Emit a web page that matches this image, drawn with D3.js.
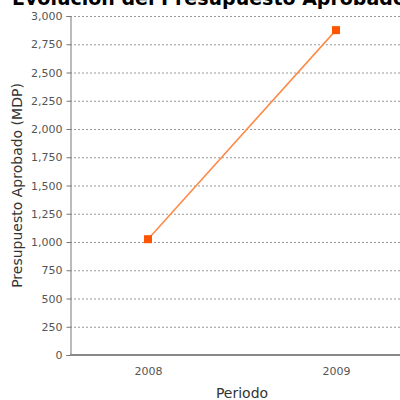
<!DOCTYPE html>
<html><head><meta charset="utf-8">
<script src="https://cdn.jsdelivr.net/npm/d3@7"></script>
<style>body{margin:0;background:#fff}svg{display:block}</style>
</head><body>
<svg id="c" width="400" height="400"></svg>
<script>
const periods = ["2008", "2009"];
const values = [1025, 2875];
const yTicks = [0, 250, 500, 750, 1000, 1250, 1500, 1750, 2000, 2250, 2500, 2750, 3000];
const title = "Evolución del Presupuesto Aprobado";
const yLabel = "Presupuesto Aprobado (MDP)";
const xLabel = "Periodo";

(function () {
const svg = d3.select("#c");
const font = "DejaVu Sans, Verdana, sans-serif";
const mLeft = 70, mRight = 414, mTop = 16, mBottom = 355;
const x = d3.scalePoint().domain(periods).range([mLeft, mRight]).padding(0.415);
const y = d3.scaleLinear().domain([0, 3000]).range([mBottom, mTop]);

// gridlines
svg.append("g").selectAll("line").data(yTicks.filter(d => d > 0)).join("line")
  .attr("x1", mLeft).attr("x2", 400)
  .attr("y1", d => y(d) + 0.5).attr("y2", d => y(d) + 0.5)
  .attr("stroke", "#999").attr("stroke-width", 1).attr("stroke-dasharray", "2,2");

// y axis
const yAxis = svg.append("g").attr("transform", `translate(${mLeft + 0.5},0)`)
  .call(d3.axisLeft(y).tickValues(yTicks).tickFormat(d3.format(",")).tickSizeOuter(0).tickSize(4).tickPadding(4));
yAxis.select(".domain").attr("stroke", "#777");
yAxis.selectAll(".tick line").attr("stroke", "#777");
yAxis.selectAll("text").attr("font-family", font).attr("font-size", 11).attr("fill", "#555");

// x axis
const xAxis = svg.append("g").attr("transform", `translate(0,${mBottom})`)
  .call(d3.axisBottom(x).tickSize(0).tickPadding(12));
xAxis.select(".domain").attr("stroke", "#888").attr("stroke-width", 2).attr("d", `M${mLeft},0H420`);
xAxis.selectAll("text").attr("font-family", font).attr("font-size", 11).attr("fill", "#555");

// line
svg.append("path").datum(periods.map((p, i) => [x(p), y(values[i])]))
  .attr("d", d3.line()).attr("fill", "none").attr("stroke", "#ff8844").attr("stroke-width", 1.5);
svg.append("g").selectAll("rect").data(periods).join("rect")
  .attr("x", d => x(d) - 4).attr("y", (d, i) => y(values[i]) - 4)
  .attr("width", 8).attr("height", 8).attr("fill", "#ff5500");

// labels
svg.append("text").attr("x", 12).attr("y", 5).attr("font-family", font).attr("font-weight", "bold")
  .attr("font-size", 19).attr("fill", "#000").text(title);
svg.append("text").attr("transform", `translate(22,${(mTop + mBottom) / 2}) rotate(-90)`)
  .attr("text-anchor", "middle").attr("font-family", font).attr("font-size", 14).attr("fill", "#333").text(yLabel);
svg.append("text").attr("x", (mLeft + mRight) / 2).attr("y", 398).attr("text-anchor", "middle")
  .attr("font-family", font).attr("font-size", 14).attr("fill", "#333").text(xLabel);
})();
</script>
</body></html>
